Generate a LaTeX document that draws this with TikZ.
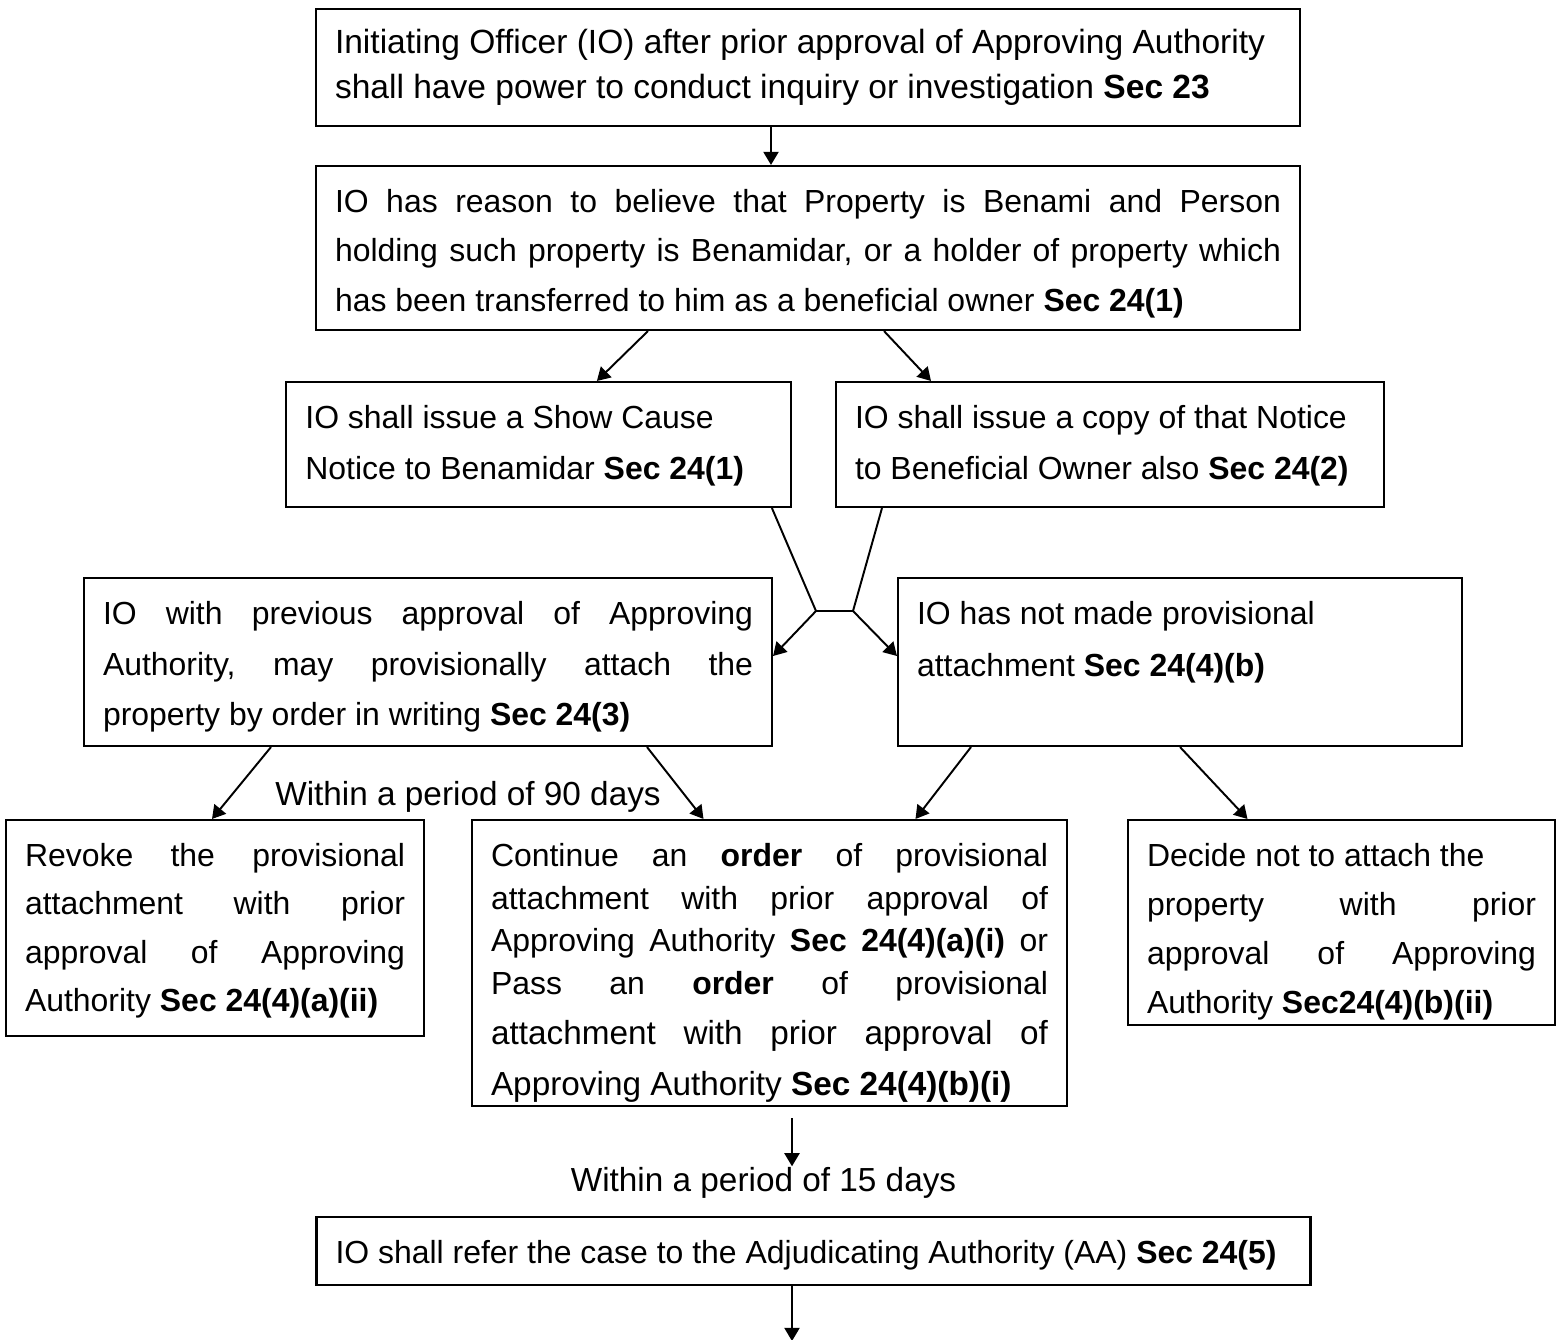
\documentclass[tikz,border=0pt]{standalone}
\usepackage{fontspec}
\setmainfont{Liberation Sans}
\usetikzlibrary{arrows.meta,calc}

\newcommand\fs[2]{\fontsize{#1}{#2}\selectfont}
\newcommand\jline[1]{\makebox[\hsize][s]{#1}}
\frenchspacing

\begin{document}
\begin{tikzpicture}[x=0.36pt,y=-0.36pt,
    box/.style={draw,line width=0.75pt,inner xsep=6.84pt,inner ysep=0pt,align=justify,text height=16.74pt},
    arr/.style={line width=0.7pt,-{Triangle[length=4.7pt,width=5.4pt]}},
    lbl/.style={anchor=base,inner sep=0pt,font=\fs{12}{14}}]
  \useasboundingbox (0,0) rectangle (1564,1340);
  \fill[white] (0,0) rectangle (1564,1340);

  % boxes
  \node[box,text width=340.56pt,text height=16.05pt,text depth=26.07pt,font=\fs{12.08}{16.2}] (ini) at (808,67.5)
    {Initiating Officer (IO) after prior approval of Approving Authority\\
     shall have power to conduct inquiry or investigation \textbf{Sec 23}};
  \node[box,text width=340.56pt,text depth=42.3pt,font=\fs{11.5}{17.8}] (belief) at (808,248)
    {\jline{IO has reason to believe that Property is Benami and Person}\\
     \jline{holding such property is Benamidar, or a holder of property which}\\
     has been transferred to him as a beneficial owner \textbf{Sec 24(1)}};
  \node[box,text width=168.12pt,text depth=28.26pt,font=\fs{11.5}{18.4}] (scn) at (538.9,444.5)
    {IO shall issue a Show Cause\\ Notice to Benamidar \textbf{Sec 24(1)}};
  \node[box,text width=183.6pt,text depth=28.26pt,font=\fs{11.5}{18.4}] (copy) at (1110,444.5)
    {IO shall issue a copy of that Notice\\ to Beneficial Owner also \textbf{Sec 24(2)}};
  \node[box,text width=234pt,text depth=43.74pt,font=\fs{11.5}{18.2}] (attach) at (428,662)
    {\jline{IO with previous approval of Approving}\\
     \jline{Authority, may provisionally attach the}\\
     property by order in writing \textbf{Sec 24(3)}};
  \node[box,text width=189.36pt,text depth=43.74pt,font=\fs{11.5}{18.6}] (noatt) at (1180,662)
    {IO has not made provisional\\ attachment \textbf{Sec 24(4)(b)}};
  \node[box,text width=136.8pt,text depth=61.02pt,font=\fs{11.5}{17.4}] (revoke) at (215,928)
    {\jline{Revoke the provisional}\\
     \jline{attachment with prior}\\
     \jline{approval of Approving}\\
     Authority \textbf{Sec 24(4)(a)(ii)}};
  \node[box,text width=200.52pt,text depth=86.22pt,font=\fs{11.5}{15.3}] (cont) at (769.5,963)
    {\jline{Continue an \textbf{order} of provisional}\\
     \jline{attachment with prior approval of}\\
     \jline{Approving Authority \textbf{Sec 24(4)(a)(i)} or}\\
     \jline{Pass an \textbf{order} of provisional}\\[2.7pt]
     \fs{12}{15.3}\jline{attachment with prior approval of}\\[3.1pt]
     Approving Authority \textbf{Sec 24(4)(b)(i)}};
  \node[box,text width=140.04pt,text depth=57.06pt,font=\fs{11.5}{17.6}] (decide) at (1341.5,922.5)
    {Decide not to attach the\\
     \jline{property with prior}\\
     \jline{approval of Approving}\\
     Authority \textbf{Sec24(4)(b)(ii)}};
  \node[box,text width=344.16pt,text depth=7.74pt,font=\fs{11.5}{14}] (refer) at (813.5,1251)
    {IO shall refer the case to the Adjudicating Authority (AA) \textbf{Sec 24(5)}};

  % labels
  \node[lbl] (d90) at (468,805) {Within a period of 90 days};
  \node[lbl] (d15) at (763.5,1191) {Within a period of 15 days};

  % connectors
  \draw[arr] ($(ini.south)+(-37,0)$) -- ($(belief.north)+(-37,0)$);
  \draw[arr] ($(belief.south)+(-160,0)$) -- ($(scn.north)+(58,0)$);
  \draw[arr] ($(belief.south)+(76,0)$) -- ($(copy.north)+(-179,0)$);
  \coordinate (jl) at (816,611);
  \coordinate (jr) at (853,611);
  \draw[line width=0.7pt] ($(scn.south)+(233,0)$) -- (jl) -- (jr) -- ($(copy.south)+(-228,0)$);
  \draw[arr] (jl) -- ($(attach.east)+(0,-6)$);
  \draw[arr] (jr) -- ($(noatt.west)+(0,-6)$);
  \draw[arr] ($(attach.south)+(-157,0)$) -- ($(revoke.north)+(-3,0)$);
  \draw[arr] ($(attach.south)+(219,0)$) -- ($(cont.north)+(-66,0)$);
  \draw[arr] ($(noatt.south)+(-209,0)$) -- ($(cont.north)+(146,0)$);
  \draw[arr] (noatt.south) -- ($(decide.north)+(-94,0)$);
  \coordinate (hout) at (792,1118);
  \draw[arr] (hout) -- (hout |- d15.north);
  \coordinate (jout) at (792,1341);
  \draw[arr] (refer.south -| jout) -- (jout);
\end{tikzpicture}
\end{document}
